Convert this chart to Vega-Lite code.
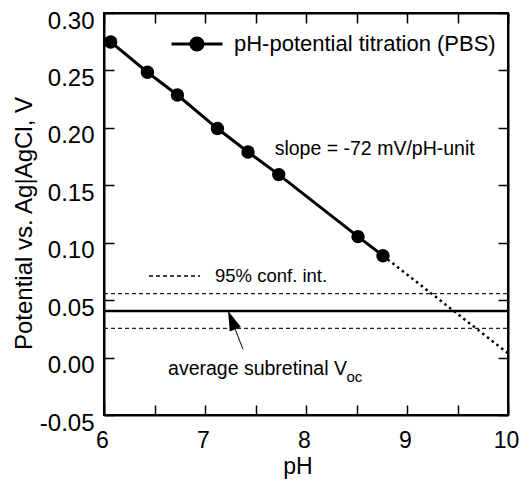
{
  "$schema": "https://vega.github.io/schema/vega-lite/v6.json",
  "width": 404,
  "height": 402,
  "autosize": {"type": "none"},
  "padding": {"left": 104, "top": 13, "right": 12, "bottom": 72},
  "background": "white",
  "config": {
    "font": "Liberation Sans",
    "view": {"stroke": "black", "strokeWidth": 2},
    "axis": {"grid": false, "domainColor": "black", "domainWidth": 2, "tickColor": "black", "tickWidth": 1.5, "labelColor": "black", "titleColor": "black", "labelFont": "Liberation Sans", "titleFont": "Liberation Sans", "titleFontWeight": "normal", "labelFlush": false, "labelOverlap": false},
    "legend": {"labelFont": "Liberation Sans", "labelColor": "black", "labelLimit": 400}
  },
  "resolve": {"axis": {"x": "independent", "y": "independent"}},
  "datasets": {
    "titration": [
      {"pH": 6.066, "V": 0.2748, "series": "pH-potential titration (PBS)"},
      {"pH": 6.43, "V": 0.2484, "series": "pH-potential titration (PBS)"},
      {"pH": 6.727, "V": 0.2286, "series": "pH-potential titration (PBS)"},
      {"pH": 7.123, "V": 0.1994, "series": "pH-potential titration (PBS)"},
      {"pH": 7.426, "V": 0.179, "series": "pH-potential titration (PBS)"},
      {"pH": 7.73, "V": 0.1593, "series": "pH-potential titration (PBS)"},
      {"pH": 8.515, "V": 0.1053, "series": "pH-potential titration (PBS)"},
      {"pH": 8.762, "V": 0.0887, "series": "pH-potential titration (PBS)"}
    ],
    "extrap": [
      {"pH": 8.762, "V": 0.0887},
      {"pH": 10, "V": 0.0037}
    ],
    "ci": [
      {"pH": 6, "V": 0.0556, "bound": "upper", "ci": "95% conf. int."},
      {"pH": 10, "V": 0.0556, "bound": "upper", "ci": "95% conf. int."},
      {"pH": 6, "V": 0.0255, "bound": "lower", "ci": "95% conf. int."},
      {"pH": 10, "V": 0.0255, "bound": "lower", "ci": "95% conf. int."}
    ],
    "avg": [
      {"pH": 6, "V": 0.0406},
      {"pH": 10, "V": 0.0406}
    ],
    "arrow": [
      {"pH": 7.376, "V": 0.0072, "pH2": 7.264, "V2": 0.0327}
    ],
    "labels": [
      {"pH": 7.69, "V": 0.1764, "text": "slope = -72 mV/pH-unit"},
      {"pH": 6.634, "V": -0.0152, "text": "average subretinal V"}
    ],
    "subs": [
      {"pH": 8.4, "V": -0.021, "text": "oc"}
    ]
  },
  "layer": [
    {
      "data": {"name": "ci"},
      "mark": {"type": "line", "color": "#222222", "strokeWidth": 1.2},
      "encoding": {
        "x": {"field": "pH", "type": "quantitative", "scale": {"domain": [6, 10], "nice": false, "zero": false},
          "axis": {"orient": "bottom", "values": [6, 6.5, 7, 7.5, 8, 8.5, 9, 9.5, 10], "labelExpr": "datum.value % 1 == 0 ? toString(datum.value) : ''", "tickSize": -10, "labelPadding": 42, "labelBaseline": "alphabetic", "labelFontSize": 23, "labelOffset": -2, "title": "pH", "titleFontSize": 23, "titleX": 193.4, "titleY": 58, "titleBaseline": "alphabetic", "titleAlign": "center"}},
        "y": {"field": "V", "type": "quantitative", "scale": {"domain": [-0.05, 0.3], "nice": false, "zero": false},
          "axis": {"orient": "left", "values": [-0.05, 0, 0.05, 0.1, 0.15, 0.2, 0.25, 0.3], "labelExpr": "datum.value < 0 ? '-' + format(-datum.value, '.2f') : format(datum.value, '.2f')", "tickSize": -10, "labelPadding": 20, "labelBaseline": "alphabetic", "labelOffset": 15, "labelFontSize": 24, "title": "Potential vs. Ag|AgCl, V", "titleFontSize": 24, "titleX": -72.3, "titleY": 210, "titleBaseline": "alphabetic", "titleAlign": "center", "titleAngle": 270}},
        "detail": {"field": "bound"},
        "strokeDash": {"field": "ci", "type": "nominal", "scale": {"domain": ["95% conf. int."], "range": [[4, 3]]},
          "legend": {"orient": "none", "legendX": 44, "legendY": 236.5, "title": null, "symbolType": "stroke", "symbolSize": 2601, "symbolStrokeWidth": 1.4, "symbolStrokeColor": "black", "labelFontSize": 18.5, "labelOffset": 14, "padding": 0}}
      }
    },
    {
      "data": {"name": "avg"},
      "mark": {"type": "line", "color": "black", "strokeWidth": 2.5},
      "encoding": {
        "x": {"field": "pH", "type": "quantitative",
          "axis": {"orient": "top", "values": [6, 6.5, 7, 7.5, 8, 8.5, 9, 9.5, 10], "labels": false, "tickSize": -10, "title": null}},
        "y": {"field": "V", "type": "quantitative",
          "axis": {"orient": "right", "values": [-0.05, 0, 0.05, 0.1, 0.15, 0.2, 0.25, 0.3], "labels": false, "tickSize": -10, "title": null}}
      }
    },
    {
      "data": {"name": "extrap"},
      "mark": {"type": "line", "color": "black", "strokeWidth": 2.5, "strokeDash": [2.5, 3.5]},
      "encoding": {
        "x": {"field": "pH", "type": "quantitative", "axis": null},
        "y": {"field": "V", "type": "quantitative", "axis": null}
      }
    },
    {
      "data": {"name": "titration"},
      "mark": {"type": "line", "color": "black", "strokeWidth": 3},
      "encoding": {
        "x": {"field": "pH", "type": "quantitative", "axis": null},
        "y": {"field": "V", "type": "quantitative", "axis": null}
      }
    },
    {
      "data": {"name": "titration"},
      "mark": {"type": "point", "filled": true, "size": 180, "opacity": 1},
      "encoding": {
        "x": {"field": "pH", "type": "quantitative", "axis": null},
        "y": {"field": "V", "type": "quantitative", "axis": null},
        "color": {"field": "series", "type": "nominal", "scale": {"range": ["black"]},
          "legend": {"orient": "none", "legendX": 82, "legendY": 20, "title": null, "symbolType": "M-3,-0.18L3,-0.18L3,0.18L-3,0.18Z M-0.88,0A0.88,0.88,0,1,1,0.88,0A0.88,0.88,0,1,1,-0.88,0Z", "symbolSize": 289, "symbolStrokeWidth": 0, "symbolFillColor": "black", "symbolOpacity": 1, "labelFontSize": 22, "labelOffset": 26, "labelLimit": 400, "padding": 0}}
      }
    },
    {
      "data": {"name": "arrow"},
      "mark": {"type": "rule", "color": "black", "strokeWidth": 1},
      "encoding": {
        "x": {"field": "pH", "type": "quantitative", "axis": null},
        "y": {"field": "V", "type": "quantitative", "axis": null},
        "x2": {"field": "pH2"},
        "y2": {"field": "V2"}
      }
    },
    {
      "data": {"name": "arrow"},
      "mark": {"type": "point", "shape": "M0,-1L0.6,1L-0.6,1Z", "filled": true, "color": "black", "opacity": 1, "size": 400, "angle": 338.5},
      "encoding": {
        "x": {"field": "pH2", "type": "quantitative", "axis": null},
        "y": {"field": "V2", "type": "quantitative", "axis": null}
      }
    },
    {
      "data": {"name": "labels"},
      "mark": {"type": "text", "align": "left", "baseline": "alphabetic", "fontSize": 19.5, "color": "black"},
      "encoding": {
        "x": {"field": "pH", "type": "quantitative", "axis": null},
        "y": {"field": "V", "type": "quantitative", "axis": null},
        "text": {"field": "text"}
      }
    },
    {
      "data": {"name": "subs"},
      "mark": {"type": "text", "align": "left", "baseline": "alphabetic", "fontSize": 15, "color": "black"},
      "encoding": {
        "x": {"field": "pH", "type": "quantitative", "axis": null},
        "y": {"field": "V", "type": "quantitative", "axis": null},
        "text": {"field": "text"}
      }
    }
  ]
}
